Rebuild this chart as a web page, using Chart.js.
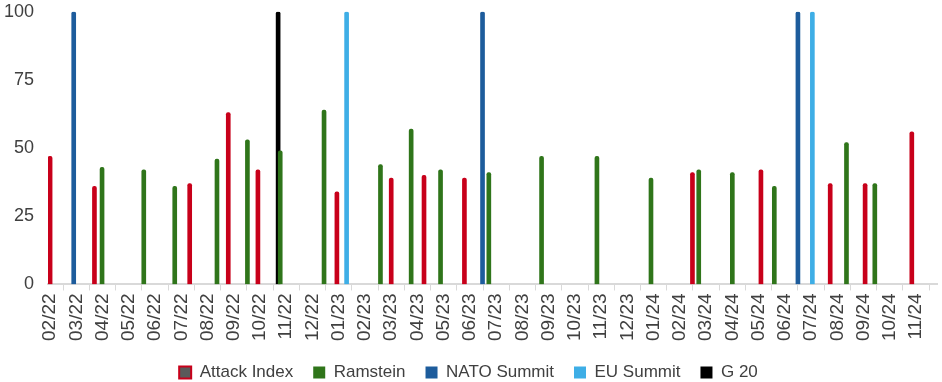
<!DOCTYPE html>
<html>
<head>
<meta charset="utf-8">
<script src="https://cdn.jsdelivr.net/npm/chart.js@4.4.1/dist/chart.umd.min.js"></script>
<style>
  html, body { margin: 0; padding: 0; background: #fff; }
  #wrap { width: 942px; height: 382px; position: relative; }
</style>
</head>
<body>
<div id="wrap"><canvas id="myChart"></canvas></div>
<script>
// tick labels (one per month)
const monthLabels = [
  "02/22", "03/22", "04/22", "05/22", "06/22", "07/22", "08/22", "09/22", "10/22", "11/22", "12/22",
  "01/23", "02/23", "03/23", "04/23", "05/23", "06/23", "07/23", "08/23", "09/23", "10/23", "11/23", "12/23",
  "01/24", "02/24", "03/24", "04/24", "05/24", "06/24", "07/24", "08/24", "09/24", "10/24", "11/24"
];

// event positions in months after 02/22 and values
const attackPos = [0.0, 1.69, 5.32, 6.79, 7.92, 10.93, 13.0, 14.25, 15.79, 24.48, 27.09, 29.73, 31.06, 32.84];
const attackVal = [47, 36, 37, 63, 42, 34, 39, 40, 39, 41, 42, 37, 37, 56];

const ramsteinPos = [1.98, 3.57, 4.75, 6.36, 7.52, 8.77, 10.44, 12.59, 13.76, 14.88, 16.72, 18.73, 20.84, 22.9, 24.72, 26.0, 27.6, 30.35, 31.43];
const ramsteinVal = [43, 42, 36, 46, 53, 49, 64, 44, 57, 42, 41, 47, 47, 39, 42, 41, 36, 52, 37];

const natoPos = [0.9, 16.48, 28.5];
const natoVal = [100, 100, 100];

const euPos = [11.3, 29.05];
const euVal = [100, 100];

const g20Pos = [8.69];
const g20Val = [100];

const yTicks = [0, 25, 50, 75, 100];

const toPoints = (pos, val) => pos.map((p, i) => ({ x: p, y: val[i] }));

const bar = (label, pos, val, color) => ({
  label: label,
  data: toPoints(pos, val),
  backgroundColor: color,
  borderWidth: 0,
  borderRadius: 2,
  borderSkipped: "bottom",
  barThickness: 4,
  grouped: false,
});

const data = {
  datasets: [
    bar("Attack Index", attackPos, attackVal, "#c8001a"),
    bar("Ramstein", ramsteinPos, ramsteinVal, "#2f751a"),
    bar("NATO Summit", natoPos, natoVal, "#1d5c9c"),
    bar("EU Summit", euPos, euVal, "#3eaee6"),
    bar("G 20", g20Pos, g20Val, "#000000"),
  ],
};

const config = {
  type: "bar",
  data: data,
  options: {
    responsive: true,
    maintainAspectRatio: false,
    animation: false,
    layout: { padding: { top: 0, right: 5, left: 0, bottom: -9 } },
    scales: {
      x: {
        type: "linear",
        min: -0.08,
        max: 33.8,
        offset: false,
        afterBuildTicks: (scale) => {
          scale.ticks = monthLabels.map((_, i) => ({ value: i }));
        },
        ticks: {
          autoSkip: false,
          maxRotation: 90,
          minRotation: 90,
          padding: 3,
          color: "#404040",
          font: { family: "Liberation Sans", size: 19 },
          callback: (value) => monthLabels[value],
        },
        grid: {
          display: true,
          drawOnChartArea: false,
          drawTicks: true,
          tickLength: 6,
          color: "#d9d9d9",
        },
        border: { display: true, color: "#d9d9d9", width: 2 },
      },
      y: {
        min: 0,
        max: 100,
        afterBuildTicks: (scale) => {
          scale.ticks = yTicks.map((v) => ({ value: v }));
        },
        afterFit: (scale) => {
          scale.width = 48;
        },
        ticks: {
          padding: 1,
          color: "#404040",
          font: { family: "Liberation Sans", size: 18 },
        },
        // invisible tick marks only to keep the labels off the bars
        grid: {
          display: true,
          drawOnChartArea: false,
          drawTicks: true,
          tickLength: 13,
          color: "rgba(0,0,0,0)",
        },
        border: { display: false },
      },
    },
    plugins: {
      tooltip: { enabled: false },
      legend: {
        position: "bottom",
        labels: {
          boxWidth: 12,
          boxHeight: 12,
          padding: 20,
          color: "#404040",
          font: { family: "Liberation Sans", size: 17 },
          generateLabels: (chart) => {
            const items = Chart.defaults.plugins.legend.labels.generateLabels(chart);
            items.forEach((it) => { it.lineWidth = 0; });
            // the first marker is a red frame around a grey square
            items[0].fillStyle = "#5a5a5a";
            items[0].strokeStyle = "#c8001a";
            items[0].lineWidth = 2;
            return items;
          },
        },
      },
    },
  },
};

const myChart = new Chart(document.getElementById("myChart"), config);
</script>
</body>
</html>
